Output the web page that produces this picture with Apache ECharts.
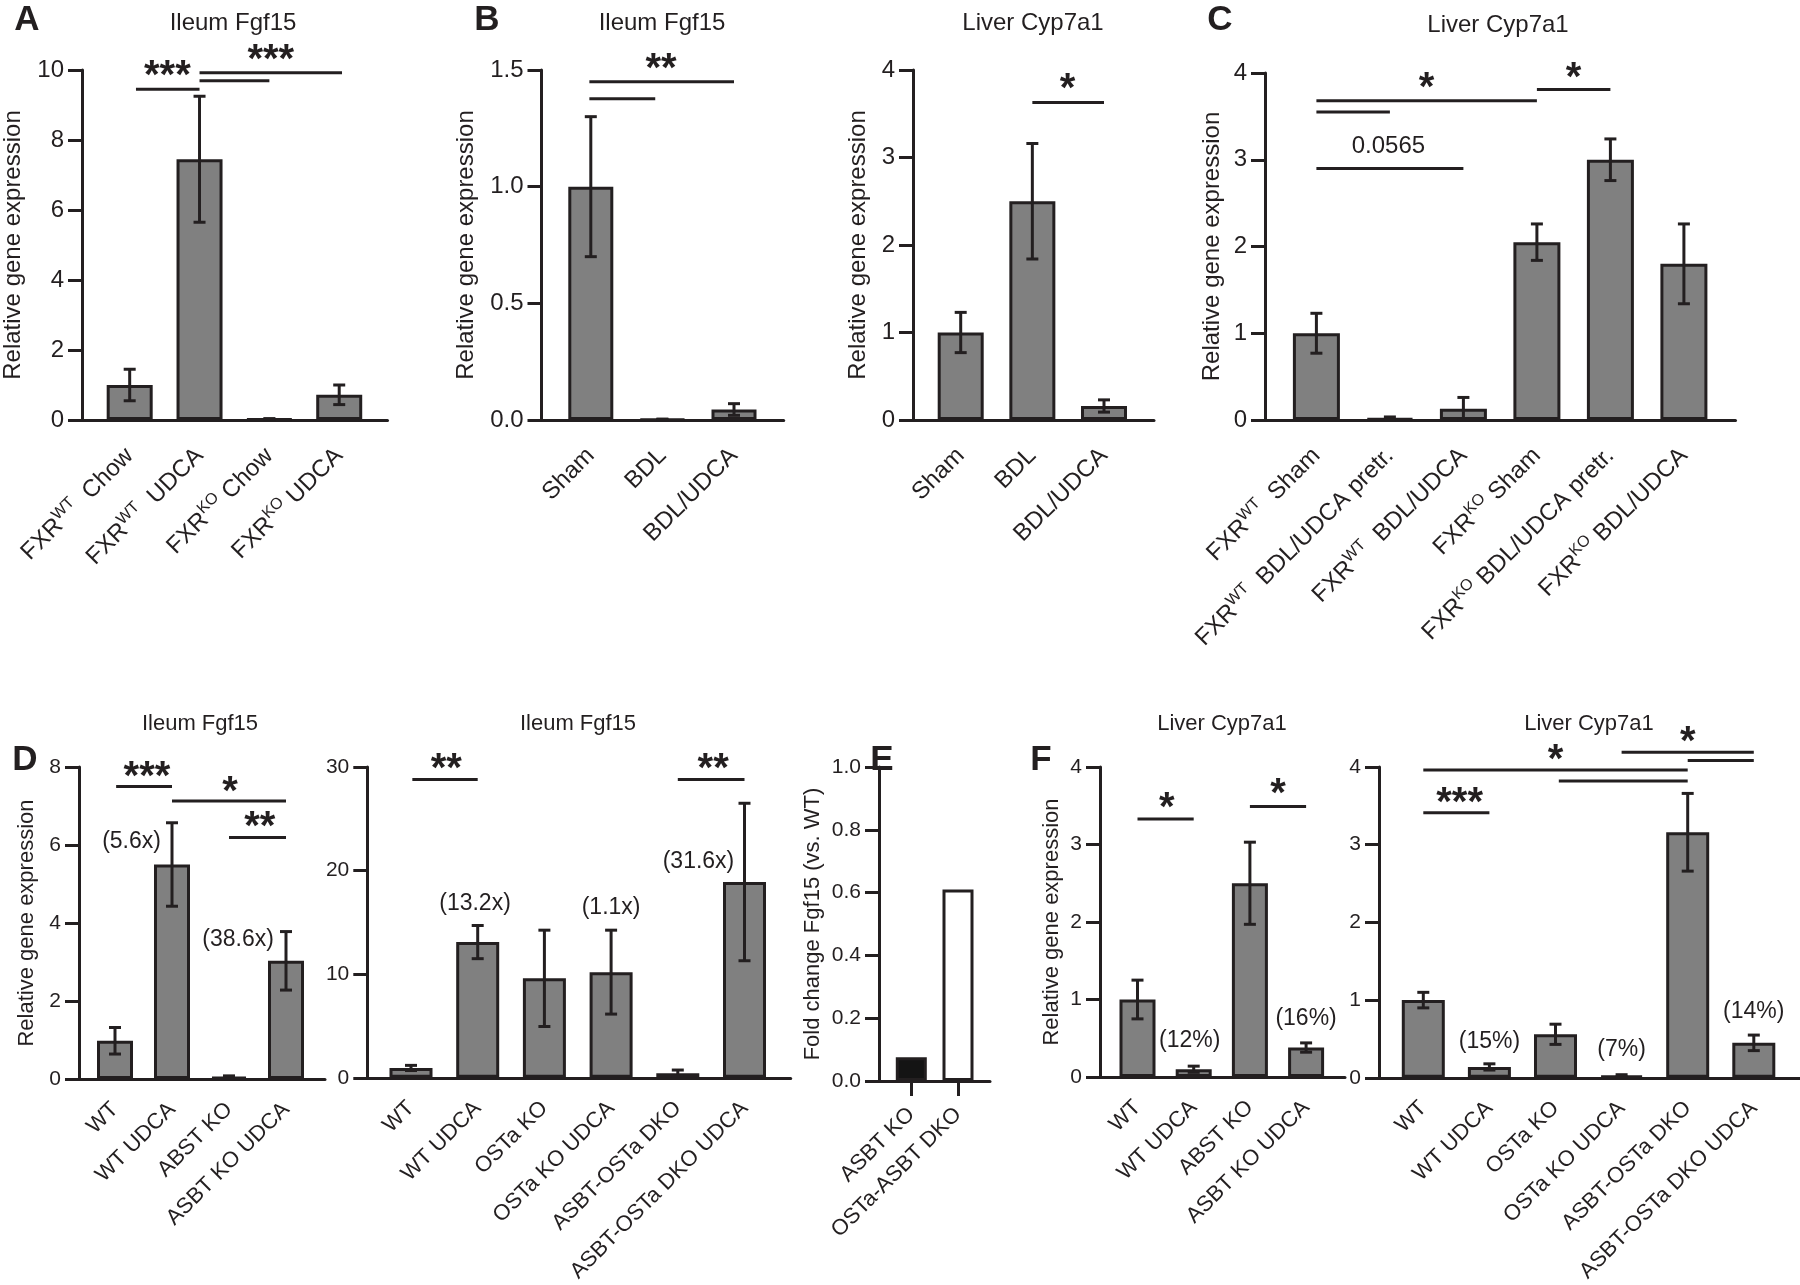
<!DOCTYPE html>
<html><head><meta charset="utf-8">
<script src="https://cdn.jsdelivr.net/npm/echarts@6/dist/echarts.min.js"></script>
<style>html,body{margin:0;padding:0;background:#fff}#c{width:1800px;height:1285px}</style>
</head><body><div id="c"></div>
<script>
// ================= DATA =================
// Panel A – Ileum Fgf15
const catA = ['FXR^{WT}  Chow', 'FXR^{WT}  UDCA', 'FXR^{KO} Chow', 'FXR^{KO} UDCA'];
const meanA = [1.0, 7.45, 0.03, 0.72];
const semA = [0.45, 1.8, 0.01, 0.28];
const yTicksA = [0, 2, 4, 6, 8, 10];
const sigA = [[0.09, 1, 9.45], [1, 2, 9.69], [1, 3.04, 9.92]];
const starA = [[0.54, 10.06, '***'], [2.02, 10.51, '***']];

// Panel B (left) – Ileum Fgf15
const catB = ['Sham', 'BDL', 'BDL/UDCA'];
const meanB1 = [1.0, 0.003, 0.045];
const semB1 = [0.3, 0.001, 0.025];
const yTicksB1 = [0, 0.5, 1.0, 1.5];
const sigB1 = [[-0.02, 0.9, 1.377], [-0.02, 2, 1.45]];
const starB1 = [[0.98, 1.54, '**']];

// Panel B (right) – Liver Cyp7a1
const meanB2 = [1.0, 2.5, 0.16];
const semB2 = [0.23, 0.66, 0.07];
const yTicksB2 = [0, 1, 2, 3, 4];
const sigB2 = [[1, 2, 3.63]];
const starB2 = [[1.49, 3.87, '*']];

// Panel C – Liver Cyp7a1
const catC = ['FXR^{WT}  Sham', 'FXR^{WT}  BDL/UDCA pretr.', 'FXR^{WT}  BDL/UDCA', 'FXR^{KO} Sham', 'FXR^{KO} BDL/UDCA pretr.', 'FXR^{KO} BDL/UDCA'];
const meanC = [1.0, 0.02, 0.13, 2.05, 3.0, 1.8];
const semC = [0.23, 0.015, 0.13, 0.21, 0.24, 0.46];
const yTicksC = [0, 1, 2, 3, 4];
const sigC = [[0, 3, 3.68], [0, 1, 3.55], [0, 2, 2.90], [3, 4, 3.81]];
const starC = [[1.5, 3.92, '*'], [3.5, 4.04, '*']];
const noteC = [[0.98, 3.15, '0.0565']];

// Panel D (left) – Ileum Fgf15
const catD1 = ['WT', 'WT UDCA', 'ABST KO', 'ASBT KO UDCA'];
const meanD1 = [0.98, 5.5, 0.05, 3.03];
const semD1 = [0.34, 1.07, 0.03, 0.75];
const yTicksD1 = [0, 2, 4, 6, 8];
const sigD1 = [[0.02, 1, 7.5], [1, 3, 7.13], [2, 3, 6.19]];
const starD1 = [[0.56, 7.96, '***'], [2.02, 7.57, '*'], [2.54, 6.66, '**']];
const noteD1 = [[0.29, 6.08, '(5.6x)'], [2.16, 3.58, '(38.6x)']];

// Panel D (right) – Ileum Fgf15
const catD2 = ['WT', 'WT UDCA', 'OSTa KO', 'OSTa KO UDCA', 'ASBT-OSTa DKO', 'ASBT-OSTa DKO UDCA'];
const meanD2 = [0.95, 13.1, 9.6, 10.2, 0.45, 18.9];
const semD2 = [0.25, 1.6, 4.65, 4.05, 0.3, 7.6];
const yTicksD2 = [0, 10, 20, 30];
const sigD2 = [[0.02, 1, 28.8], [4, 5, 28.8]];
const starD2 = [[0.53, 30.6, '**'], [4.53, 30.6, '**']];
const noteD2 = [[0.96, 16.8, '(13.2x)'], [3.0, 16.4, '(1.1x)'], [4.31, 20.9, '(31.6x)']];

// Panel E – Fold change Fgf15
const catE = ['ASBT KO', 'OSTa-ASBT DKO'];
const valE = [0.076, 0.61];
const yTicksE = [0, 0.2, 0.4, 0.6, 0.8, 1.0];

// Panel F (left) – Liver Cyp7a1
const catF1 = ['WT', 'WT UDCA', 'ABST KO', 'ASBT KO UDCA'];
const meanF1 = [1.0, 0.1, 2.5, 0.38];
const semF1 = [0.25, 0.04, 0.53, 0.06];
const yTicksF1 = [0, 1, 2, 3, 4];
const sigF1 = [[0, 1, 3.33], [2, 3, 3.49]];
const starF1 = [[0.52, 3.57, '*'], [2.5, 3.75, '*']];
const noteF1 = [[0.93, 0.47, '(12%)'], [3.0, 0.75, '(16%)']];

// Panel F (right) – Liver Cyp7a1
const catF2 = ['WT', 'WT UDCA', 'OSTa KO', 'OSTa KO UDCA', 'ASBT-OSTa DKO', 'ASBT-OSTa DKO UDCA'];
const meanF2 = [1.0, 0.14, 0.56, 0.025, 3.16, 0.45];
const semF2 = [0.1, 0.04, 0.13, 0.015, 0.5, 0.1];
const yTicksF2 = [0, 1, 2, 3, 4];
const sigF2 = [[0, 4, 3.96], [2.05, 4, 3.82], [0, 1, 3.41], [3, 5, 4.19], [4, 5, 4.085]];
const starF2 = [[0.55, 3.645, '***'], [2.0, 4.19, '*'], [4.0, 4.43, '*']];
const noteF2 = [[1, 0.47, '(15%)'], [3, 0.364, '(7%)'], [5, 0.856, '(14%)']];

const yNameRel = 'Relative gene expression';
const yNameFold = 'Fold change Fgf15 (vs. WT)';
const titles = [['Ileum Fgf15', 233, 23], ['Ileum Fgf15', 662, 23], ['Liver Cyp7a1', 1033, 23], ['Liver Cyp7a1', 1498, 25],
                ['Ileum Fgf15', 200, 724], ['Ileum Fgf15', 578, 724], ['Liver Cyp7a1', 1222, 724], ['Liver Cyp7a1', 1589, 724]];
const letters = [['A', 27, 20], ['B', 487, 20], ['C', 1220, 20], ['D', 25, 760], ['E', 882, 760], ['F', 1041, 760]];

// ================= STYLE / LAYOUT =================
const FONT = '"Liberation Sans", Arial, Helvetica, sans-serif';
const INK = '#231f20';
const BAR = '#808080';
const colorsE = ['#141414', '#ffffff'];
const TOP = {lf: 24, tf: 24, nf: 24, lm: 32};
const BOT = {lf: 22, tf: 21, nf: 22, lm: 27};

const panels = [
  {cats: catA, mean: meanA, sem: semA, sig: sigA, stars: starA, notes: [], ticks: yTicksA, dec: 0, name: yNameRel, gap: 57,
   box: {left: 80, top: 70, width: 307.5, height: 350}, c0: 128, step: 70.3, barW: 46, st: TOP},
  {cats: catB, mean: meanB1, sem: semB1, sig: sigB1, stars: starB1, notes: [], ticks: yTicksB1, dec: 1, name: yNameRel, gap: 63,
   box: {left: 541.5, top: 70, width: 242.2, height: 350}, c0: 590.8, step: 71.6, barW: 45, st: TOP},
  {cats: catB, mean: meanB2, sem: semB2, sig: sigB2, stars: starB2, notes: [], ticks: yTicksB2, dec: 0, name: yNameRel, gap: 43,
   box: {left: 913, top: 70, width: 241, height: 350}, c0: 960.7, step: 71.65, barW: 46, st: TOP},
  {cats: catC, mean: meanC, sem: semC, sig: sigC, stars: starC, notes: noteC, ticks: yTicksC, dec: 0, name: yNameRel, gap: 41,
   box: {left: 1265, top: 73, width: 470.5, height: 347}, c0: 1316.4, step: 73.5, barW: 47, st: TOP},
  {cats: catD1, mean: meanD1, sem: semD1, sig: sigD1, stars: starD1, notes: noteD1, ticks: yTicksD1, dec: 0, name: yNameRel, gap: 41,
   box: {left: 79, top: 767, width: 246, height: 312}, c0: 115, step: 57, barW: 36, st: BOT},
  {cats: catD2, mean: meanD2, sem: semD2, sig: sigD2, stars: starD2, notes: noteD2, ticks: yTicksD2, dec: 0, name: '', gap: 40,
   box: {left: 367.3, top: 767, width: 423.4, height: 313}, c0: 411, step: 66.7, barW: 43, st: BOT},
  {cats: catE, mean: valE, sem: null, sig: [], stars: [], notes: [], ticks: yTicksE, dec: 1, name: yNameFold, gap: 55,
   box: {left: 879, top: 767, width: 111, height: 314}, c0: 911.3, step: 46.7, barW: 31, st: BOT, colors: colorsE, xTicks: true},
  {cats: catF1, mean: meanF1, sem: semF1, sig: sigF1, stars: starF1, notes: noteF1, ticks: yTicksF1, dec: 0, name: yNameRel, gap: 37,
   box: {left: 1100, top: 767, width: 245, height: 310}, c0: 1137.5, step: 56.2, barW: 36, st: BOT},
  {cats: catF2, mean: meanF2, sem: semF2, sig: sigF2, stars: starF2, notes: noteF2, ticks: yTicksF2, dec: 0, name: '', gap: 40,
   box: {left: 1379, top: 767, width: 421, height: 311}, c0: 1423.3, step: 66.1, barW: 43, st: BOT}
];

function richLabel(s) {
  return '{n|' + s.replace(/\^\{([^}]*)\}/g, '}{s|$1}{n|') + '}';
}

const grid = [], xAxis = [], yAxis = [], series = [];
const lineStyle = {color: INK, width: 3};

panels.forEach((p, k) => {
  const b = p.box, st = p.st;
  grid.push({left: b.left, top: b.top, width: b.width, height: b.height, containLabel: false});
  const idx = p.cats.map((_, i) => i);
  xAxis.push({
    type: 'value', gridIndex: k,
    min: (b.left - p.c0) / p.step, max: (b.left + b.width - p.c0) / p.step,
    axisLine: {show: true, onZero: false, lineStyle: lineStyle},
    axisTick: {show: !!p.xTicks, customValues: idx, length: 15, lineStyle: lineStyle},
    splitLine: {show: false},
    axisLabel: {
      customValues: idx, rotate: 45, margin: p.xTicks ? st.lm + 3 : st.lm,
      formatter: v => richLabel(p.cats[Math.round(v)]),
      rich: {
        n: {fontSize: st.lf, fontFamily: FONT, color: INK, lineHeight: st.lf + 6},
        s: {fontSize: Math.round(st.lf * 0.66), fontFamily: FONT, color: INK, verticalAlign: 'top'}
      }
    }
  });
  const t = p.ticks;
  yAxis.push({
    type: 'value', gridIndex: k, min: t[0], max: t[t.length - 1], interval: t[1] - t[0],
    name: p.name, nameLocation: 'middle', nameGap: p.gap,
    nameTextStyle: {fontSize: st.nf, fontFamily: FONT, color: INK},
    axisLine: {show: true, onZero: false, lineStyle: lineStyle},
    axisTick: {show: true, length: 14, lineStyle: lineStyle},
    splitLine: {show: false},
    axisLabel: {fontSize: st.tf, fontFamily: FONT, color: INK, margin: 18,
      formatter: v => v.toFixed(p.dec)}
  });
  // bars
  series.push({
    type: 'bar', xAxisIndex: k, yAxisIndex: k, barWidth: p.barW, z: 2,
    itemStyle: {color: BAR, borderColor: INK, borderWidth: 3},
    data: p.mean.map((m, i) => p.colors ? {value: [i, m], itemStyle: {color: p.colors[i]}} : [i, m])
  });
  // error bars
  if (p.sem) {
    series.push({
      type: 'custom', xAxisIndex: k, yAxisIndex: k, z: 4, silent: true,
      data: p.mean.map((m, i) => [i, Math.max(0, m - p.sem[i]), m + p.sem[i]]),
      renderItem: (params, api) => {
        const a = api.coord([api.value(0), api.value(1)]);
        const c = api.coord([api.value(0), api.value(2)]);
        const w = 6, s2 = {stroke: INK, lineWidth: 3};
        return {type: 'group', children: [
          {type: 'line', shape: {x1: a[0], y1: a[1], x2: c[0], y2: c[1]}, style: s2},
          {type: 'line', shape: {x1: a[0] - w, y1: a[1], x2: a[0] + w, y2: a[1]}, style: s2},
          {type: 'line', shape: {x1: c[0] - w, y1: c[1], x2: c[0] + w, y2: c[1]}, style: s2}
        ]};
      }
    });
  }
  // significance lines
  if (p.sig.length) {
    series.push({
      type: 'custom', xAxisIndex: k, yAxisIndex: k, z: 4, silent: true, clip: false,
      data: p.sig,
      renderItem: (params, api) => {
        const a = api.coord([api.value(0), api.value(2)]);
        const c = api.coord([api.value(1), api.value(2)]);
        return {type: 'line', shape: {x1: a[0], y1: a[1], x2: c[0], y2: c[1]}, style: {stroke: INK, lineWidth: 3}};
      }
    });
  }
  // stars
  if (p.stars.length) {
    series.push({
      type: 'custom', xAxisIndex: k, yAxisIndex: k, z: 5, silent: true, clip: false,
      data: p.stars.map(s => [s[0], s[1]]),
      renderItem: (params, api) => {
        const a = api.coord([api.value(0), api.value(1)]);
        return {type: 'text', x: a[0], y: a[1] + 9, style: {text: p.stars[params.dataIndex][2],
          fontSize: 40, fontWeight: 'bold', fontFamily: FONT, fill: INK, align: 'center', verticalAlign: 'middle'}};
      }
    });
  }
  // notes
  if (p.notes.length) {
    series.push({
      type: 'custom', xAxisIndex: k, yAxisIndex: k, z: 5, silent: true, clip: false,
      data: p.notes.map(s => [s[0], s[1]]),
      renderItem: (params, api) => {
        const a = api.coord([api.value(0), api.value(1)]);
        return {type: 'text', x: a[0], y: a[1], style: {text: p.notes[params.dataIndex][2],
          fontSize: k < 4 ? 24 : 23, fontFamily: FONT, fill: INK, align: 'center', verticalAlign: 'middle'}};
      }
    });
  }
});

const graphic = [];
titles.forEach(t => graphic.push({type: 'text', x: t[1], y: t[2],
  style: {text: t[0], fontSize: t[2] < 400 ? 24 : 22, fontFamily: FONT, fill: INK, align: 'center', verticalAlign: 'middle'}}));
letters.forEach(t => graphic.push({type: 'text', x: t[1], y: t[2],
  style: {text: t[0], fontSize: 35, fontWeight: 'bold', fontFamily: FONT, fill: INK, align: 'center', verticalAlign: 'middle'}}));

const chart = echarts.init(document.getElementById('c'), null, {renderer: 'canvas'});
chart.setOption({animation: false, backgroundColor: '#fff', grid, xAxis, yAxis, series, graphic});
</script></body></html>
